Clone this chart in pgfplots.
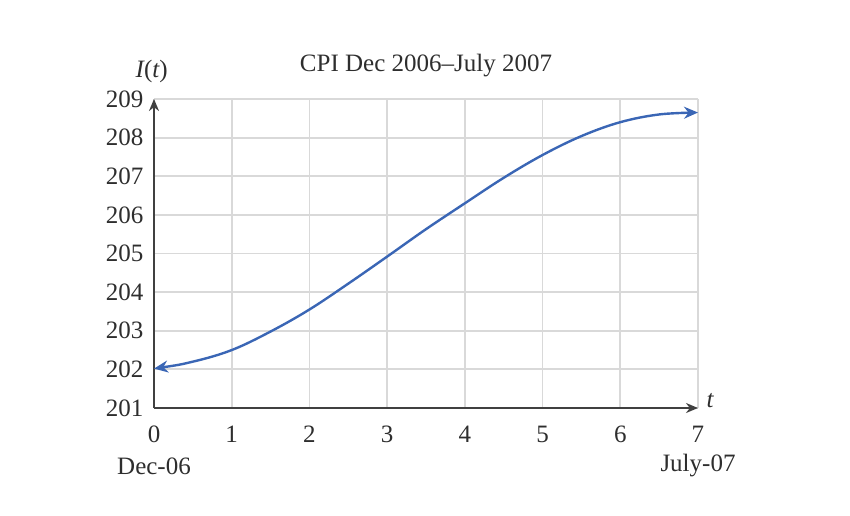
\documentclass[border=0pt]{standalone}
\usepackage{fontspec}
\setmainfont{Liberation Serif}
\usepackage{pgfplots}
\pgfplotsset{compat=1.18}
\usetikzlibrary{arrows.meta}
\definecolor{curve}{HTML}{3A66B5}
\definecolor{gridc}{HTML}{D9D9D9}
\definecolor{axc}{HTML}{404040}
\definecolor{txt}{HTML}{2E2E2E}
\begin{document}
\fontsize{12.5}{15}\selectfont
\begin{tikzpicture}
\begin{axis}[
  scale only axis,
  width=272pt, height=154.5pt,
  xmin=0, xmax=7, ymin=201, ymax=209,
  xtick={0,...,7}, ytick={201,...,209},
  grid=major,
  major grid style={gridc, line width=0.9pt},
  axis lines=left,
  axis line style={axc, line width=1.1pt, -{Stealth[length=6pt,width=5pt]}},
  major tick length=0pt,
  tick label style={font=\fontsize{12.5}{15}\selectfont, text=txt},
  /pgf/number format/assume math mode=true,
  /pgf/number format/.cd, use comma, 1000 sep={}, /pgfplots/.cd,
  xticklabel style={yshift=-4.5pt},
  yticklabel style={xshift=-1pt},
  title={CPI Dec 2006--July 2007},
  title style={font=\fontsize{12.5}{15}\selectfont, text=txt, yshift=0.5pt},
  clip=false,
]
\addplot[curve, line width=1.2pt, smooth, tension=0.6,
  {Stealth[length=7pt,width=6pt]}-{Stealth[length=7pt,width=6pt]}]
  coordinates {
  (0,202.02) (0.5,202.2) (1,202.5) (1.5,202.98) (2,203.55) (2.5,204.22)
  (3,204.92) (3.5,205.63) (4,206.3) (4.5,206.96) (5,207.55) (5.5,208.04)
  (6,208.4) (6.5,208.6) (7,208.65)};
\node[text=txt, anchor=west] at (axis cs:7,201.2) {\itshape t};
\node[text=txt] at (axis cs:-0.03,209.7) {\itshape I\upshape(\itshape t\upshape)};
\node[text=txt] at (axis cs:0,199.5) {Dec-06};
\node[text=txt] at (axis cs:7,199.5) {July-07};
\end{axis}
\path[use as bounding box] (-77pt,-53.5pt) rectangle (348pt,204pt);
\end{tikzpicture}
\end{document}
